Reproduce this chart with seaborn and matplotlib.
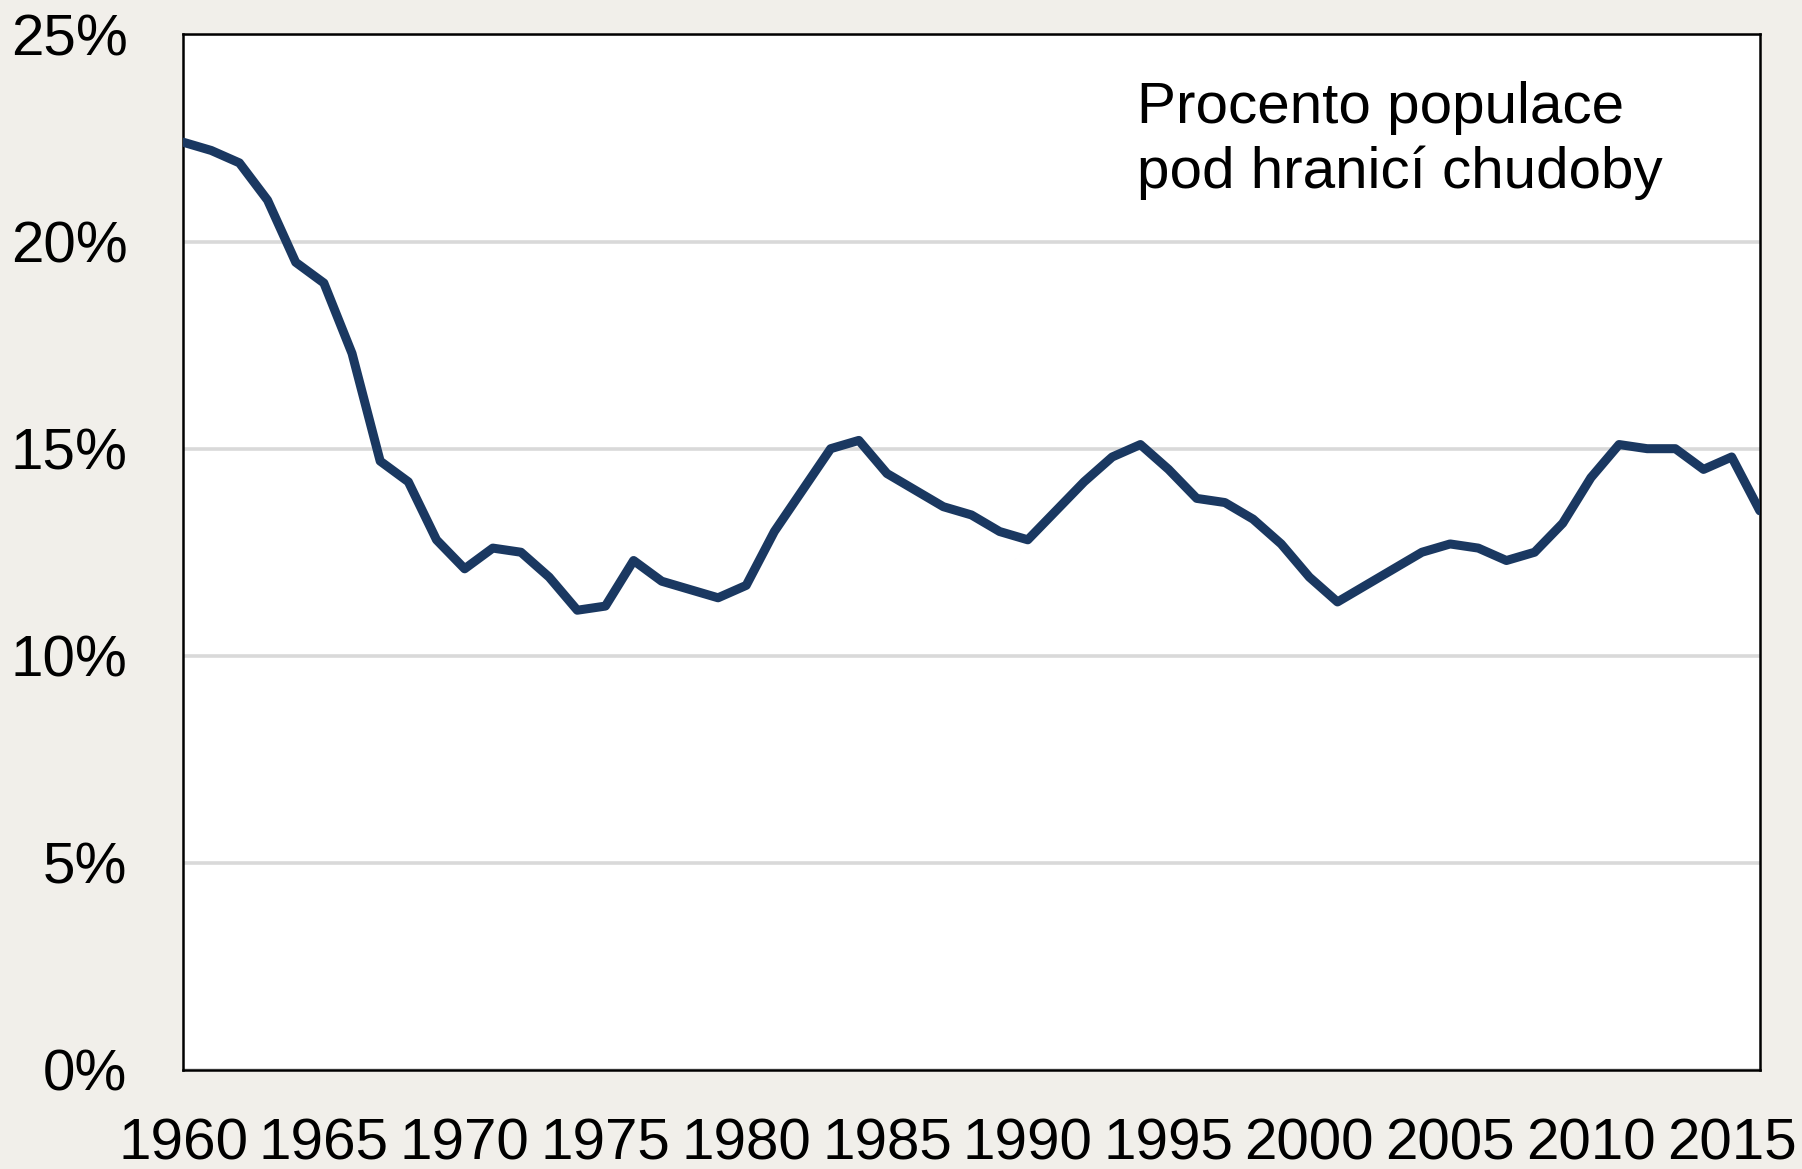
import numpy as np
import pandas as pd
import matplotlib
matplotlib.use('Agg')
import matplotlib.pyplot as plt
import seaborn as sns
from matplotlib.ticker import MultipleLocator, FuncFormatter

# podil populace pod hranici chudoby (%), roky 1960-2016
years = list(range(1960, 2017))
poverty = [22.4, 22.2, 21.9, 21.0, 19.5, 19.0, 17.3, 14.7, 14.2, 12.8,
           12.1, 12.6, 12.5, 11.9, 11.1, 11.2, 12.3, 11.8, 11.6, 11.4,
           11.7, 13.0, 14.0, 15.0, 15.2, 14.4, 14.0, 13.6, 13.4, 13.0,
           12.8, 13.5, 14.2, 14.8, 15.1, 14.5, 13.8, 13.7, 13.3, 12.7,
           11.9, 11.3, 11.7, 12.1, 12.5, 12.7, 12.6, 12.3, 12.5, 13.2,
           14.3, 15.1, 15.0, 15.0, 14.5, 14.8, 13.5]
y_ticks = [0, 5, 10, 15, 20, 25]
x_ticks = list(range(1960, 2016, 5))
label = 'Procento populace\npod hranicí chudoby'

df = pd.DataFrame({'rok': years, 'chudoba': poverty})

sns.set_style('white')
plt.rcParams['font.family'] = ['Liberation Sans', 'DejaVu Sans']
plt.rcParams['text.color'] = 'black'
plt.rcParams['xtick.color'] = 'black'
plt.rcParams['ytick.color'] = 'black'

fig = plt.figure(figsize=(18.02, 11.69), dpi=100)
fig.patch.set_facecolor('#f1efea')
ax = fig.add_axes([0.1016, 0.0847, 0.875, 0.8858])
ax.set_facecolor('white')

sns.lineplot(data=df, x='rok', y='chudoba', color='#1a3861', linewidth=6.5, ax=ax, zorder=3)

ax.set_xlim(1960, 2016)
ax.set_ylim(0, 25)
ax.set_yticks(y_ticks)
ax.yaxis.set_major_formatter(FuncFormatter(lambda v, p: f'{v:.0f}%'))
ax.set_xticks(x_ticks)
ax.xaxis.set_minor_locator(MultipleLocator(2.5))
ax.grid(axis='y', color='#d9d9d9', linewidth=2.6, zorder=0)
ax.set_axisbelow(True)

ax.tick_params(axis='y', length=0, labelsize=42, pad=40, labelcolor='black')
ax.tick_params(axis='x', which='major', direction='inout', length=25, width=1.6,
               labelsize=42, pad=22, labelcolor='black')
ax.tick_params(axis='x', which='minor', direction='in', length=9, width=1.6)
for s in ax.spines.values():
    s.set_color('black')
    s.set_linewidth(1.8)

ax.set_xlabel('')
ax.set_ylabel('')

ax.text(0.605, 0.955, label, transform=ax.transAxes, fontsize=42, color='black',
        ha='left', va='top', linespacing=1.25)

fig.savefig('out.png', dpi=100, facecolor=fig.get_facecolor())
